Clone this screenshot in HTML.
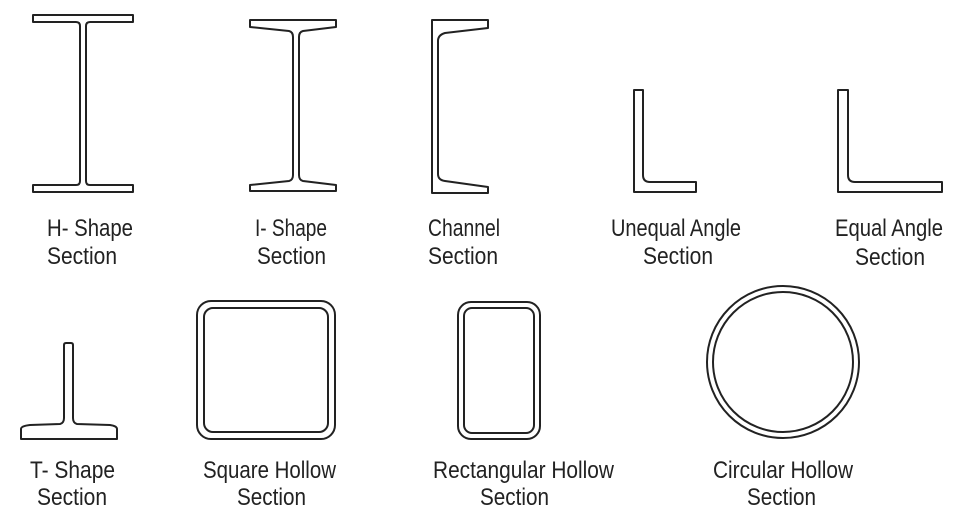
<!DOCTYPE html>
<html><head><meta charset="utf-8"><style>
html,body{margin:0;padding:0;background:#fff;}
svg{display:block;}
text{font-family:"Liberation Sans Narrow","Liberation Sans",sans-serif;font-size:24px;fill:#222;}
</style></head><body>
<svg width="960" height="513" viewBox="0 0 960 513" xmlns="http://www.w3.org/2000/svg">
<g fill="#fff" stroke="#222" stroke-width="2" stroke-linejoin="round">
<path d="M33,15 H133 V22 H90 Q86,22 86,26 V181 Q86,185 90,185 H133 V192 H33 V185 H76 Q80,185 80,181 V26 Q80,22 76,22 H33 Z"/>
<path d="M250,20 H336 V27 L303,31 Q299,32 299,37 V175 Q299,180 303,181 L336,185 V191 H250 V185 L289,181 Q293,180 293,175 V37 Q293,32 289,31 L250,27 Z"/>
<path d="M432,20 H488 V28 L445,33 Q438,35 438,41 V174 Q438,180 445,181 L488,187 V193 H432 Z"/>
<path d="M634,90 H643 V175 Q643,182 650,182 H696 V192 H634 Z"/>
<path d="M838,90 H848 V175 Q848,182 855,182 H942 V192 H838 Z"/>
<path d="M21,429 Q21,426 30,425 L60,424 Q64,423 64,418 V345 Q64,343 66,343 H71 Q73,343 73,345 V418 Q73,423 77,424 L110,425 Q117,426 117,429 V439 H21 Z"/>
<rect x="197" y="301" width="138" height="138" rx="14"/>
<rect x="204" y="308" width="124" height="124" rx="9"/>
<rect x="458" y="302" width="82" height="137" rx="13"/>
<rect x="464" y="308" width="70" height="125" rx="8"/>
<circle cx="783" cy="362" r="76"/>
<circle cx="783" cy="362" r="70"/>
</g>
<text x="47" y="236" textLength="86" lengthAdjust="spacingAndGlyphs">H- Shape</text>
<text x="47" y="264" textLength="70" lengthAdjust="spacingAndGlyphs">Section</text>
<text x="255" y="236" textLength="72" lengthAdjust="spacingAndGlyphs">I- Shape</text>
<text x="257" y="264" textLength="69" lengthAdjust="spacingAndGlyphs">Section</text>
<text x="428" y="236" textLength="72" lengthAdjust="spacingAndGlyphs">Channel</text>
<text x="428" y="264" textLength="70" lengthAdjust="spacingAndGlyphs">Section</text>
<text x="611" y="236" textLength="130" lengthAdjust="spacingAndGlyphs">Unequal Angle</text>
<text x="643" y="264" textLength="70" lengthAdjust="spacingAndGlyphs">Section</text>
<text x="835" y="236" textLength="108" lengthAdjust="spacingAndGlyphs">Equal Angle</text>
<text x="855" y="265" textLength="70" lengthAdjust="spacingAndGlyphs">Section</text>
<text x="30" y="478" textLength="85" lengthAdjust="spacingAndGlyphs">T- Shape</text>
<text x="37" y="505" textLength="70" lengthAdjust="spacingAndGlyphs">Section</text>
<text x="203" y="478" textLength="133" lengthAdjust="spacingAndGlyphs">Square Hollow</text>
<text x="237" y="505" textLength="69" lengthAdjust="spacingAndGlyphs">Section</text>
<text x="433" y="478" textLength="181" lengthAdjust="spacingAndGlyphs">Rectangular Hollow</text>
<text x="480" y="505" textLength="69" lengthAdjust="spacingAndGlyphs">Section</text>
<text x="713" y="478" textLength="140" lengthAdjust="spacingAndGlyphs">Circular Hollow</text>
<text x="747" y="505" textLength="69" lengthAdjust="spacingAndGlyphs">Section</text>
</svg>
</body></html>
